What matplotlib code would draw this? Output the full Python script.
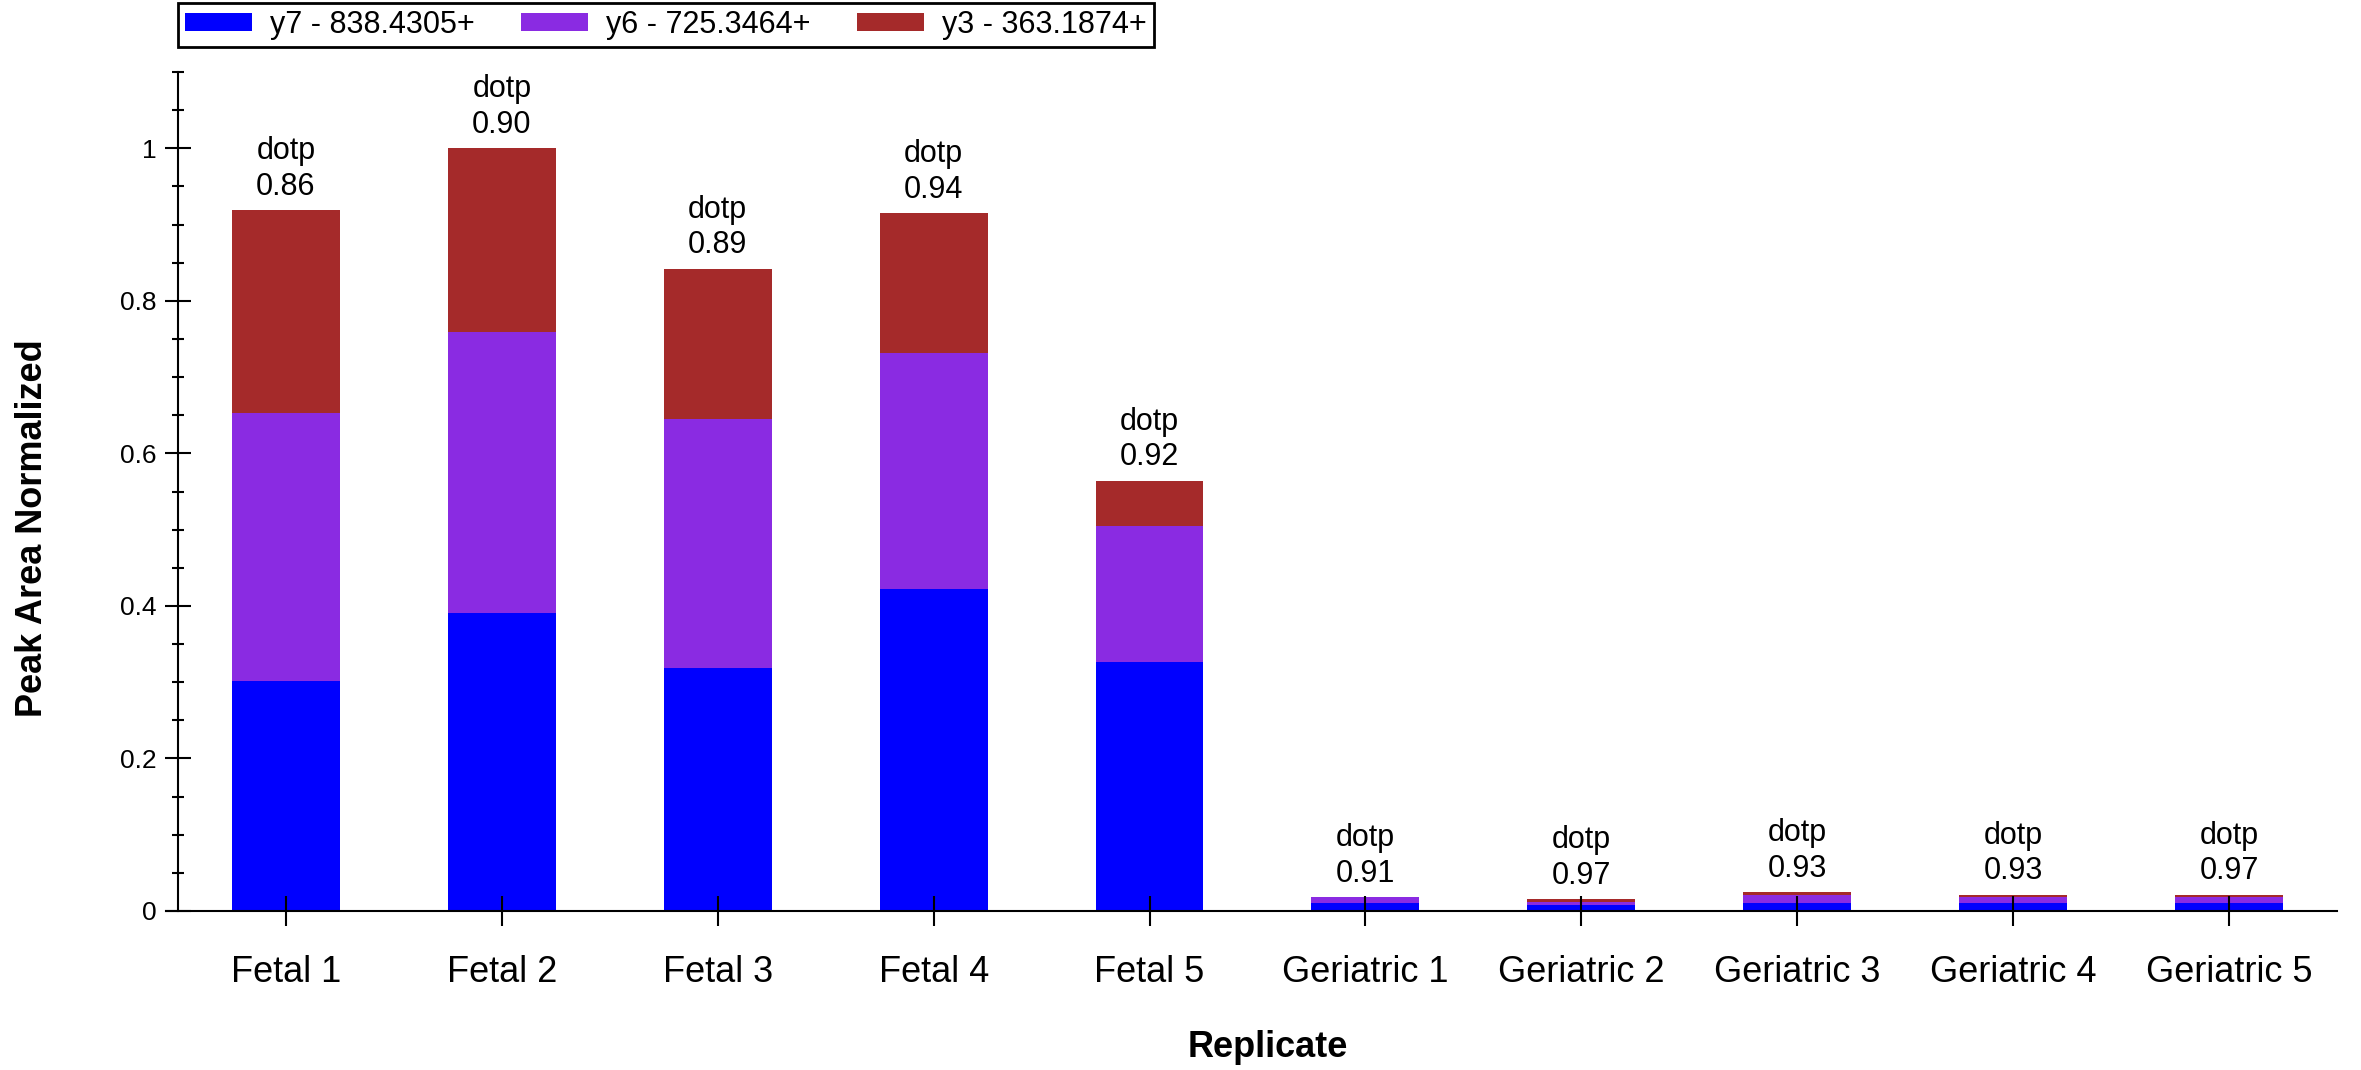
import matplotlib.pyplot as plt
from matplotlib.ticker import MultipleLocator

plt.rcParams["font.family"] = ["Liberation Sans", "DejaVu Sans"]

replicates = ["Fetal 1", "Fetal 2", "Fetal 3", "Fetal 4", "Fetal 5",
              "Geriatric 1", "Geriatric 2", "Geriatric 3", "Geriatric 4", "Geriatric 5"]
y7 = [0.302, 0.391, 0.318, 0.422, 0.327, 0.011, 0.0075, 0.011, 0.011, 0.011]
y6 = [0.351, 0.368, 0.327, 0.310, 0.178, 0.007, 0.0045, 0.0096, 0.0069, 0.0069]
y3 = [0.266, 0.241, 0.197, 0.183, 0.059, 0.0005, 0.0033, 0.0044, 0.0035, 0.0035]
dotp = [0.86, 0.90, 0.89, 0.94, 0.92, 0.91, 0.97, 0.93, 0.93, 0.97]

series = [("y7 - 838.4305+", y7, "#0000FF"),
          ("y6 - 725.3464+", y6, "#8A2BE2"),
          ("y3 - 363.1874+", y3, "#A52A2A")]


def plot() -> None:
    fig = plt.figure(figsize=(23.61, 10.70), dpi=100)
    ax = fig.add_axes([0.0754, 0.1486, 0.9144, 0.7841])

    x = range(len(replicates))
    bottom = [0.0] * len(replicates)
    for label, values, color in series:
        ax.bar(x, values, width=0.5, bottom=bottom, color=color, label=label)
        bottom = [b + v for b, v in zip(bottom, values)]

    # dotp labels above each stacked bar
    for i, (total, d) in enumerate(zip(bottom, dotp)):
        ax.annotate(f"dotp\n{d:.2f}", (i, total), xytext=(0, 6), textcoords="offset points",
                    ha="center", va="bottom", fontsize=22, linespacing=1.25)

    ax.set_xlim(-0.5, 9.5)
    ax.set_ylim(0, 1.1)
    ax.set_xticks(list(x))
    ax.set_xticklabels(replicates)
    ax.yaxis.set_minor_locator(MultipleLocator(0.05))
    ax.set_yticks([0, 0.2, 0.4, 0.6, 0.8, 1.0])
    ax.set_yticklabels(["0", "0.2", "0.4", "0.6", "0.8", "1"])

    ax.tick_params(axis="y", which="major", direction="inout", length=19, width=1.5,
                   labelsize=19, pad=6)
    ax.tick_params(axis="y", which="minor", direction="inout", length=9, width=1.5)
    ax.tick_params(axis="x", direction="inout", length=21, width=1.5, labelsize=26, pad=21)

    for side in ("top", "right"):
        ax.spines[side].set_visible(False)
    for side in ("left", "bottom"):
        ax.spines[side].set_linewidth(1.5)
    ax.spines["bottom"].set_bounds(-0.556, 9.5)

    ax.set_xlabel("Replicate", fontsize=26, fontweight="bold", labelpad=29)
    ax.set_ylabel("Peak Area Normalized", fontsize=26, fontweight="bold", labelpad=50)
    ax.xaxis.label.set_x(0.505)
    ax.yaxis.label.set_y(0.456)

    leg = fig.legend(loc="upper left", bbox_to_anchor=(0.0754, 0.997), ncol=3, fontsize=22,
                     frameon=True, fancybox=False, edgecolor="black", framealpha=1,
                     handlelength=2.2, handleheight=0.5, columnspacing=1.5,
                     borderpad=0.22, handletextpad=0.6, borderaxespad=0.0)
    leg.get_frame().set_linewidth(2)

    fig.savefig("out.png", dpi=100)


if __name__ == "__main__":
    plot()
